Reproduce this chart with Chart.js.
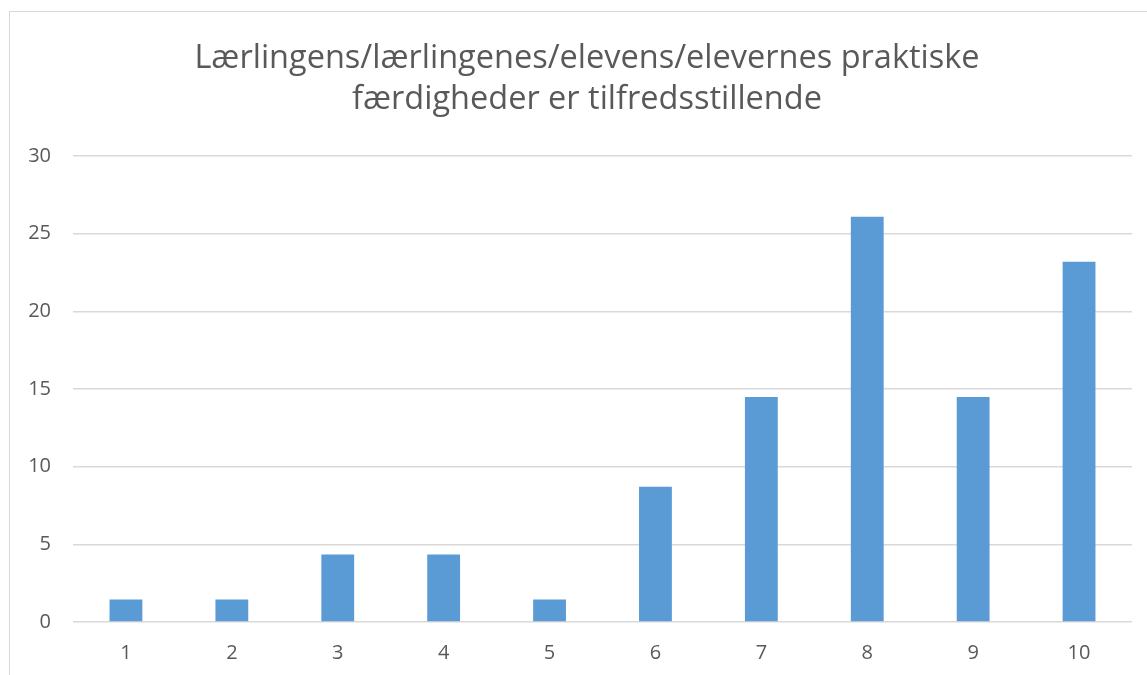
<!DOCTYPE html>
<html>
<head>
<meta charset="utf-8">
<script src="https://cdn.jsdelivr.net/npm/chart.js@4/dist/chart.umd.min.js"></script>
<style>
  html, body { margin:0; padding:0; background:#fff; overflow:hidden; }
  #box { position:absolute; left:9px; top:11px; width:1160px; height:700px;
         border-left:1px solid #d9d9d9; border-top:1px solid #d9d9d9; box-sizing:border-box; }
  #wrap { position:absolute; left:0; top:0; width:1147px; height:675px; }
</style>
</head>
<body>
<div id="box"></div>
<div id="wrap"><canvas id="chart"></canvas></div>
<script>
const categories = ['1','2','3','4','5','6','7','8','9','10'];
const values     = [1.45, 1.45, 4.35, 4.35, 1.45, 8.70, 14.49, 26.09, 14.49, 23.19];
const yTicks     = [0, 5, 10, 15, 20, 25, 30];
const titleLines = ['Lærlingens/lærlingenes/elevens/elevernes praktiske', 'færdigheder er tilfredsstillende'];

const txt = '#595959';
const font = "'Open Sans', 'Noto Sans', sans-serif";

// title is centred on the outer chart frame, not on the canvas
const titlePlugin = {
  id: 'frameTitle',
  afterDraw(chart) {
    const ctx = chart.ctx;
    ctx.save();
    ctx.fillStyle = txt;
    ctx.font = `32.5px ${font}`;
    ctx.textAlign = 'center';
    ctx.textBaseline = 'middle';
    titleLines.forEach((t, i) => ctx.fillText(t, 587, 59 + i * 41));
    ctx.restore();
  }
};

new Chart(document.getElementById('chart'), {
  type: 'bar',
  data: {
    labels: categories,
    datasets: [{
      data: values,
      backgroundColor: '#5b9bd5',
      barPercentage: 1,
      categoryPercentage: 0.31
    }]
  },
  plugins: [titlePlugin],
  options: {
    responsive: true,
    maintainAspectRatio: false,
    animation: false,
    layout: { padding: { left: 10, right: 15, top: 156, bottom: 0 } },
    plugins: {
      legend: { display: false },
      tooltip: { enabled: false },
      title: { display: false }
    },
    scales: {
      x: {
        grid: { display: false },
        border: { display: false },
        ticks: { color: txt, font: { family: font, size: 20 }, padding: 11 },
        afterFit: s => { s.height = 53; }
      },
      y: {
        min: 0, max: 30,
        afterBuildTicks: s => { s.ticks = yTicks.map(v => ({ value: v })); },
        grid: { color: '#d9d9d9', lineWidth: 1.5, drawTicks: false },
        border: { display: false },
        ticks: { color: txt, font: { family: font, size: 20 }, padding: 22 },
        afterFit: s => { s.width = 63; }
      }
    }
  }
});
</script>
</body>
</html>
